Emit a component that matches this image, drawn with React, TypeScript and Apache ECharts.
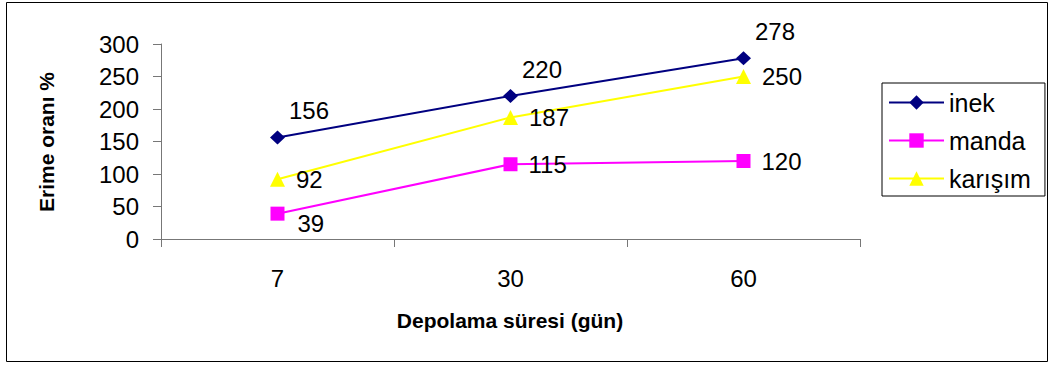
import React, { useEffect, useRef } from "react";
import * as echarts from "echarts";

const categories = ["7", "30", "60"];
const inek = [156, 220, 278];
const manda = [39, 115, 120];
const karisim = [92, 187, 250];
const seriesNames = ["inek", "manda", "karışım"];

const FONT = "Liberation Sans, Arial, sans-serif";

export default function App() {
  const ref = useRef<HTMLDivElement>(null);
  useEffect(() => {
    if (!ref.current) return;
    const chart = echarts.init(ref.current, null, { renderer: "svg" });
    const labelBase = { show: true, position: "right", fontSize: 24, color: "#000", fontFamily: FONT };
    chart.setOption({
      animation: false,
      textStyle: { fontFamily: FONT },
      grid: { left: 161, right: 189, top: 44, bottom: 126, containLabel: false },
      xAxis: {
        type: "category",
        data: categories,
        boundaryGap: true,
        axisLine: { lineStyle: { color: "#777", width: 1 } },
        axisTick: { show: true, length: 8, inside: false, alignWithLabel: false, lineStyle: { color: "#777" } },
        axisLabel: { fontSize: 24, color: "#000", margin: 27, fontFamily: FONT },
        splitLine: { show: false },
      },
      yAxis: {
        type: "value",
        min: 0,
        max: 300,
        interval: 50,
        axisLine: { show: true, lineStyle: { color: "#777", width: 1 } },
        axisTick: { show: true, length: 8, lineStyle: { color: "#777" } },
        axisLabel: { fontSize: 24, color: "#000", margin: 22, fontFamily: FONT },
        splitLine: { show: false },
      },
      legend: {
        orient: "vertical",
        left: 882,
        top: 83,
        itemWidth: 55,
        itemHeight: 18,
        itemGap: 13,
        padding: [7, 14, 5, 6],
        borderColor: "#000",
        borderWidth: 1,
        backgroundColor: "#fff",
        textStyle: { fontSize: 25, color: "#000", fontFamily: FONT },
        data: seriesNames,
      },
      graphic: [
        {
          type: "rect",
          shape: { x: 6.5, y: 2.5, width: 1041, height: 359 },
          style: { fill: "none", stroke: "#000", lineWidth: 1 },
          silent: true,
          z: -1,
        },
        {
          type: "text",
          x: 510,
          y: 320,
          style: {
            text: "Depolama süresi (gün)",
            font: "bold 21px " + FONT,
            fill: "#000",
            textAlign: "center",
            textVerticalAlign: "middle",
          },
        },
        {
          type: "text",
          x: 46,
          y: 142,
          rotation: Math.PI / 2,
          style: {
            text: "Erime oranı %",
            font: "bold 21px " + FONT,
            fill: "#000",
            textAlign: "center",
            textVerticalAlign: "middle",
          },
        },
      ],
      series: [
        {
          name: seriesNames[0],
          type: "line",
          data: inek,
          symbol: "diamond",
          symbolSize: [15, 14],
          lineStyle: { color: "#000080", width: 2 },
          itemStyle: { color: "#000080" },
          label: { ...labelBase, distance: 4, offset: [0, -27] },
        },
        {
          name: seriesNames[1],
          type: "line",
          data: manda.map((v, i) => (i === 0 ? { value: v, label: { offset: [2, 10] } } : v)),
          symbol: "rect",
          symbolSize: 14,
          lineStyle: { color: "#FF00FF", width: 2 },
          itemStyle: { color: "#FF00FF" },
          label: { ...labelBase, distance: 11 },
        },
        {
          name: seriesNames[2],
          type: "line",
          data: karisim,
          symbol: "triangle",
          symbolSize: 15,
          lineStyle: { color: "#FFFF00", width: 2 },
          itemStyle: { color: "#FFFF00" },
          label: { ...labelBase, distance: 11 },
        },
      ],
    });
    return () => chart.dispose();
  }, []);
  return (
    <div
      ref={ref}
      style={{ position: "fixed", left: 0, top: 0, width: 1049, height: 365, background: "#fff" }}
    />
  );
}
